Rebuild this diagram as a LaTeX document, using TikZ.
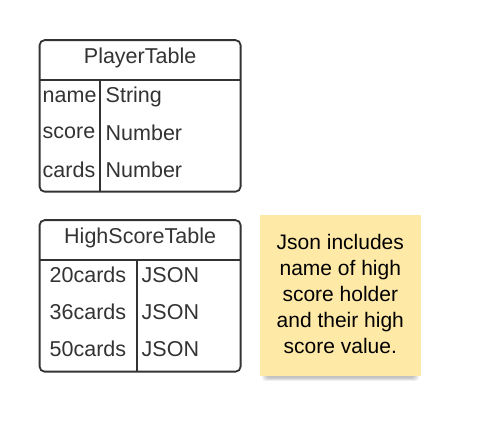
\documentclass[tikz,border=0pt]{standalone}
\usepackage{fontspec}
\setmainfont{Liberation Sans}
\definecolor{ink}{HTML}{333333}
\definecolor{notefill}{HTML}{FFE9A6}
\tikzset{
  tablebox/.style={draw=ink, line width=1.8pt, rounded corners=5pt, fill=white, inner sep=0pt},
  divider/.style={draw=ink, line width=1.8pt},
  celltext/.style={text=ink, inner sep=0pt, font=\fontsize{21.5}{24}\selectfont, anchor=west},
  headtext/.style={text=ink, inner sep=0pt, font=\fontsize{21.5}{24}\selectfont},
  notebox/.style={fill=notefill, inner sep=0pt},
  shadowlayer/.style={fill=black, opacity=0.045, rounded corners=3pt},
  notetext/.style={align=center, text=black, inner sep=0pt, font=\fontsize{21}{26}\selectfont}
}
\begin{document}
\begin{tikzpicture}[x=1pt,y=-1pt]
\useasboundingbox (0,0) rectangle (477,435);
% PlayerTable
\node[tablebox, minimum width=201pt, minimum height=151.5pt] (ptab) at (140.1,115.9) {};
\coordinate (phl) at (39.5,80);
\coordinate (phr) at (240.7,80);
\draw[divider] (phl) -- (phr);
\coordinate (pct) at (100,80);
\coordinate (pcb) at (100,191.7);
\draw[divider] (pct) -- (pcb);
\node[headtext] (ptitle) at (140.1,58) {PlayerTable};
\node[celltext] (pn1) at (42.5,97) {name};
\node[celltext] (pt1) at (105.5,97) {String};
\node[celltext] (pn2) at (42.5,133) {score};
\node[celltext] (pt2) at (105.5,133) {Number};
\node[celltext] (pn3) at (42.5,170) {cards};
\node[celltext] (pt3) at (105.5,170) {Number};
% HighScoreTable
\node[tablebox, minimum width=201pt, minimum height=151.5pt] (htab) at (140.1,295.9) {};
\coordinate (hhl) at (39.5,260);
\coordinate (hhr) at (240.7,260);
\draw[divider] (hhl) -- (hhr);
\coordinate (hct) at (137.3,260);
\coordinate (hcb) at (137.3,371.7);
\draw[divider] (hct) -- (hcb);
\node[headtext] (htitle) at (140.1,238) {HighScoreTable};
\node[celltext] (hn1) at (49.5,275) {20cards};
\node[celltext] (ht1) at (141.5,275) {JSON};
\node[celltext] (hn2) at (49.5,312) {36cards};
\node[celltext] (ht2) at (141.5,312) {JSON};
\node[celltext] (hn3) at (49.5,349) {50cards};
\node[celltext] (ht3) at (141.5,349) {JSON};
% Note shadow (soft)
\foreach \d in {0,1,2,3,4,5} {
  \fill[shadowlayer] (262+\d,222+\d) rectangle (419-\d,381-\d*0.6);
}
% Note
\node[notebox, minimum width=160.7pt, minimum height=160.7pt] (note) at (340.3,295.3) {};
\node[notetext] (notet) at (340.3,294) {Json includes\\name of high\\score holder\\and their high\\score value.};
\end{tikzpicture}
\end{document}
